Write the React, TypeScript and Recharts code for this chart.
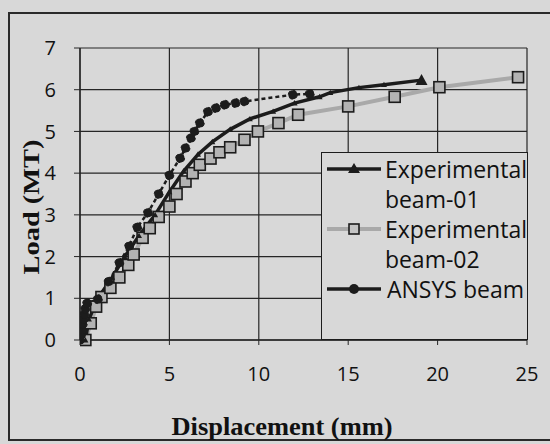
import {
  CartesianGrid,
  Label,
  Line,
  LineChart,
  XAxis,
  YAxis,
} from "recharts";

// values (displacement in mm, load in MT)
const beam01Disp = [0.3, 0.5, 1.0, 1.8, 2.5, 3.3, 4.2, 5.0, 5.8, 6.6, 7.4, 8.4, 9.5, 10.8, 12.0, 13.4, 14.0, 15.6, 17.0, 19.1];
const beam01Load = [0, 0.5, 1.0, 1.5, 2.0, 2.5, 3.0, 3.55, 4.05, 4.45, 4.75, 5.05, 5.3, 5.48, 5.68, 5.83, 5.93, 6.05, 6.12, 6.23];

const beam02Disp = [0.3, 0.6, 0.9, 1.2, 1.7, 2.2, 2.7, 3.0, 3.5, 3.9, 4.4, 5.0, 5.4, 5.9, 6.3, 6.7, 7.3, 7.8, 8.4, 9.2, 9.95, 11.1, 12.2, 15.0, 17.6, 20.1, 24.5];
const beam02Load = [0, 0.4, 0.8, 1.03, 1.25, 1.5, 1.8, 2.05, 2.45, 2.68, 2.95, 3.2, 3.5, 3.8, 4.0, 4.2, 4.35, 4.5, 4.62, 4.8, 5.0, 5.2, 5.4, 5.6, 5.83, 6.06, 6.3];

const ansysDisp = [0, 0.05, 0.1, 0.15, 0.2, 0.25, 0.3, 0.4, 1.0, 1.6, 2.2, 2.75, 3.2, 3.8, 4.4, 5.0, 5.6, 5.9, 6.2, 6.4, 6.7, 7.15, 7.6, 8.1, 8.7, 9.2, 11.9, 12.85];
const ansysLoad = [0, 0.12, 0.25, 0.38, 0.5, 0.62, 0.75, 0.88, 0.98, 1.4, 1.85, 2.25, 2.7, 3.05, 3.5, 3.95, 4.36, 4.6, 4.84, 5.0, 5.2, 5.47, 5.56, 5.64, 5.68, 5.72, 5.88, 5.9];

const xTicks = [0, 5, 10, 15, 20, 25];
const yTicks = [0, 1, 2, 3, 4, 5, 6, 7];

const toPoints = (xs: number[], ys: number[]) => xs.map((x, i) => ({ x, y: ys[i] }));

const BG = "#d8d8d8";
const INK = "#1c1c1c";
const GREY_LINE = "#a9a9a9";
const SANS = "'Open Sans', sans-serif";
const SERIF = "'Liberation Serif', 'Times New Roman', serif";

// triangles sit inside the thick line; only the end marker really shows
const TriangleDot = (props: any) => {
  const { cx, cy, index } = props;
  if (cx == null || cy == null) return null;
  const s = index === beam01Disp.length - 1 ? 6 : 3;
  return (
    <path
      key={`t-${index}`}
      d={`M${cx},${cy - s} L${cx + s},${cy + s * 0.8} L${cx - s},${cy + s * 0.8} Z`}
      fill={INK}
    />
  );
};

const SquareDot = (props: any) => {
  const { cx, cy, index } = props;
  if (cx == null || cy == null) return null;
  return (
    <rect
      key={`s-${index}`}
      x={cx - 5.5}
      y={cy - 5.5}
      width={11}
      height={11}
      fill="#b3b3b3"
      stroke={INK}
      strokeWidth={1.6}
    />
  );
};

const legendRows = [
  { name: "Experimental beam-01", first: "Experimental", second: "beam-01", kind: "tri" },
  { name: "Experimental beam-02", first: "Experimental", second: "beam-02", kind: "sq" },
  { name: "ANSYS beam", first: "ANSYS beam", second: "", kind: "dot" },
];

const LegendIcon = ({ kind }: { kind: string }) => (
  <svg width={58} height={30} style={{ display: "block" }}>
    {kind === "tri" && (
      <>
        <line x1={2} y1={15} x2={56} y2={15} stroke={INK} strokeWidth={3.5} />
        <path d="M29,9 L35,19 L23,19 Z" fill={INK} />
      </>
    )}
    {kind === "sq" && (
      <>
        <line x1={2} y1={15} x2={56} y2={15} stroke={GREY_LINE} strokeWidth={4} />
        <rect x={24} y={10} width={10} height={10} fill="#c4c4c4" stroke={INK} strokeWidth={1.6} />
      </>
    )}
    {kind === "dot" && (
      <>
        <line x1={2} y1={15} x2={56} y2={15} stroke={INK} strokeWidth={3.5} />
        <circle cx={29} cy={15} r={5} fill={INK} />
      </>
    )}
  </svg>
);

const ChartLegend = () => (
  <div
    style={{
      position: "absolute",
      left: 321,
      top: 152,
      width: 207,
      height: 188,
      border: `1.6px solid ${INK}`,
      background: BG,
      boxSizing: "border-box",
      paddingTop: 1,
      fontFamily: SANS,
      fontSize: 23,
      lineHeight: "30px",
      color: "#111",
    }}
  >
    {legendRows.map((r) => (
      <div key={r.name} style={{ display: "flex", alignItems: "flex-start" }}>
        <div style={{ width: 62, paddingLeft: 3 }}>
          <LegendIcon kind={r.kind} />
        </div>
        <div style={{ whiteSpace: "nowrap" }}>
          <div>{r.first}</div>
          {r.second && <div>{r.second}</div>}
        </div>
      </div>
    ))}
  </div>
);

export default function App() {
  return (
    <div
      style={{
        position: "absolute",
        left: 0,
        top: 0,
        width: 550,
        height: 444,
        background: BG,
        overflow: "hidden",
      }}
    >
      <div
        style={{
          position: "absolute",
          left: 8,
          top: 12,
          width: 550,
          height: 429,
          border: `2px solid #2a2a2a`,
          boxSizing: "border-box",
        }}
      />
      <div style={{ position: "absolute", left: 0, top: 0 }}>
        <LineChart
          width={550}
          height={444}
          margin={{ top: 48, right: 23, bottom: 44, left: 40 }}
        >
          <CartesianGrid stroke="#262626" strokeWidth={1.2} />
          <XAxis
            type="number"
            dataKey="x"
            domain={[0, 25]}
            ticks={xTicks}
            interval={0}
            height={60}
            tickSize={5}
            tickMargin={22}
            axisLine={{ stroke: "#262626", strokeWidth: 1.3 }}
            tickLine={{ stroke: "#262626" }}
            tick={{ fill: "#111", fontSize: 20, fontFamily: SANS }}
            allowDataOverflow
          >
            <Label
              content={() => (
                <text
                  x={282}
                  y={435}
                  textAnchor="middle"
                  fontFamily={SERIF}
                  fontWeight="bold"
                  fontSize={25}
                  textLength={221}
                  lengthAdjust="spacingAndGlyphs"
                  fill="#111"
                >
                  Displacement (mm)
                </text>
              )}
            />
          </XAxis>
          <YAxis
            type="number"
            dataKey="y"
            domain={[0, 7]}
            ticks={yTicks}
            interval={0}
            width={40}
            tickSize={6}
            tickMargin={18}
            axisLine={{ stroke: "#262626", strokeWidth: 1.3 }}
            tickLine={{ stroke: "#262626" }}
            tick={{ fill: "#111", fontSize: 20, fontFamily: SANS }}
          >
            <Label
              content={() => (
                <text
                  x={39}
                  y={207}
                  transform="rotate(-90 39 207)"
                  textAnchor="middle"
                  fontFamily={SERIF}
                  fontWeight="bold"
                  fontSize={24}
                  textLength={135}
                  lengthAdjust="spacingAndGlyphs"
                  fill="#111"
                >
                  Load (MT)
                </text>
              )}
            />
          </YAxis>
          <Line
            data={toPoints(beam02Disp, beam02Load)}
            dataKey="y"
            name="Experimental beam-02"
            stroke={GREY_LINE}
            strokeWidth={4}
            dot={<SquareDot />}
            isAnimationActive={false}
          />
          <Line
            data={toPoints(beam01Disp, beam01Load)}
            dataKey="y"
            name="Experimental beam-01"
            stroke={INK}
            strokeWidth={3.5}
            dot={<TriangleDot />}
            isAnimationActive={false}
          />
          <Line
            data={toPoints(ansysDisp, ansysLoad)}
            dataKey="y"
            name="ANSYS beam"
            stroke={INK}
            strokeWidth={2.5}
            strokeDasharray="4 3"
            dot={{ r: 4.5, fill: INK, stroke: INK, strokeWidth: 1 }}
            isAnimationActive={false}
          />
        </LineChart>
      </div>
      <ChartLegend />
    </div>
  );
}
